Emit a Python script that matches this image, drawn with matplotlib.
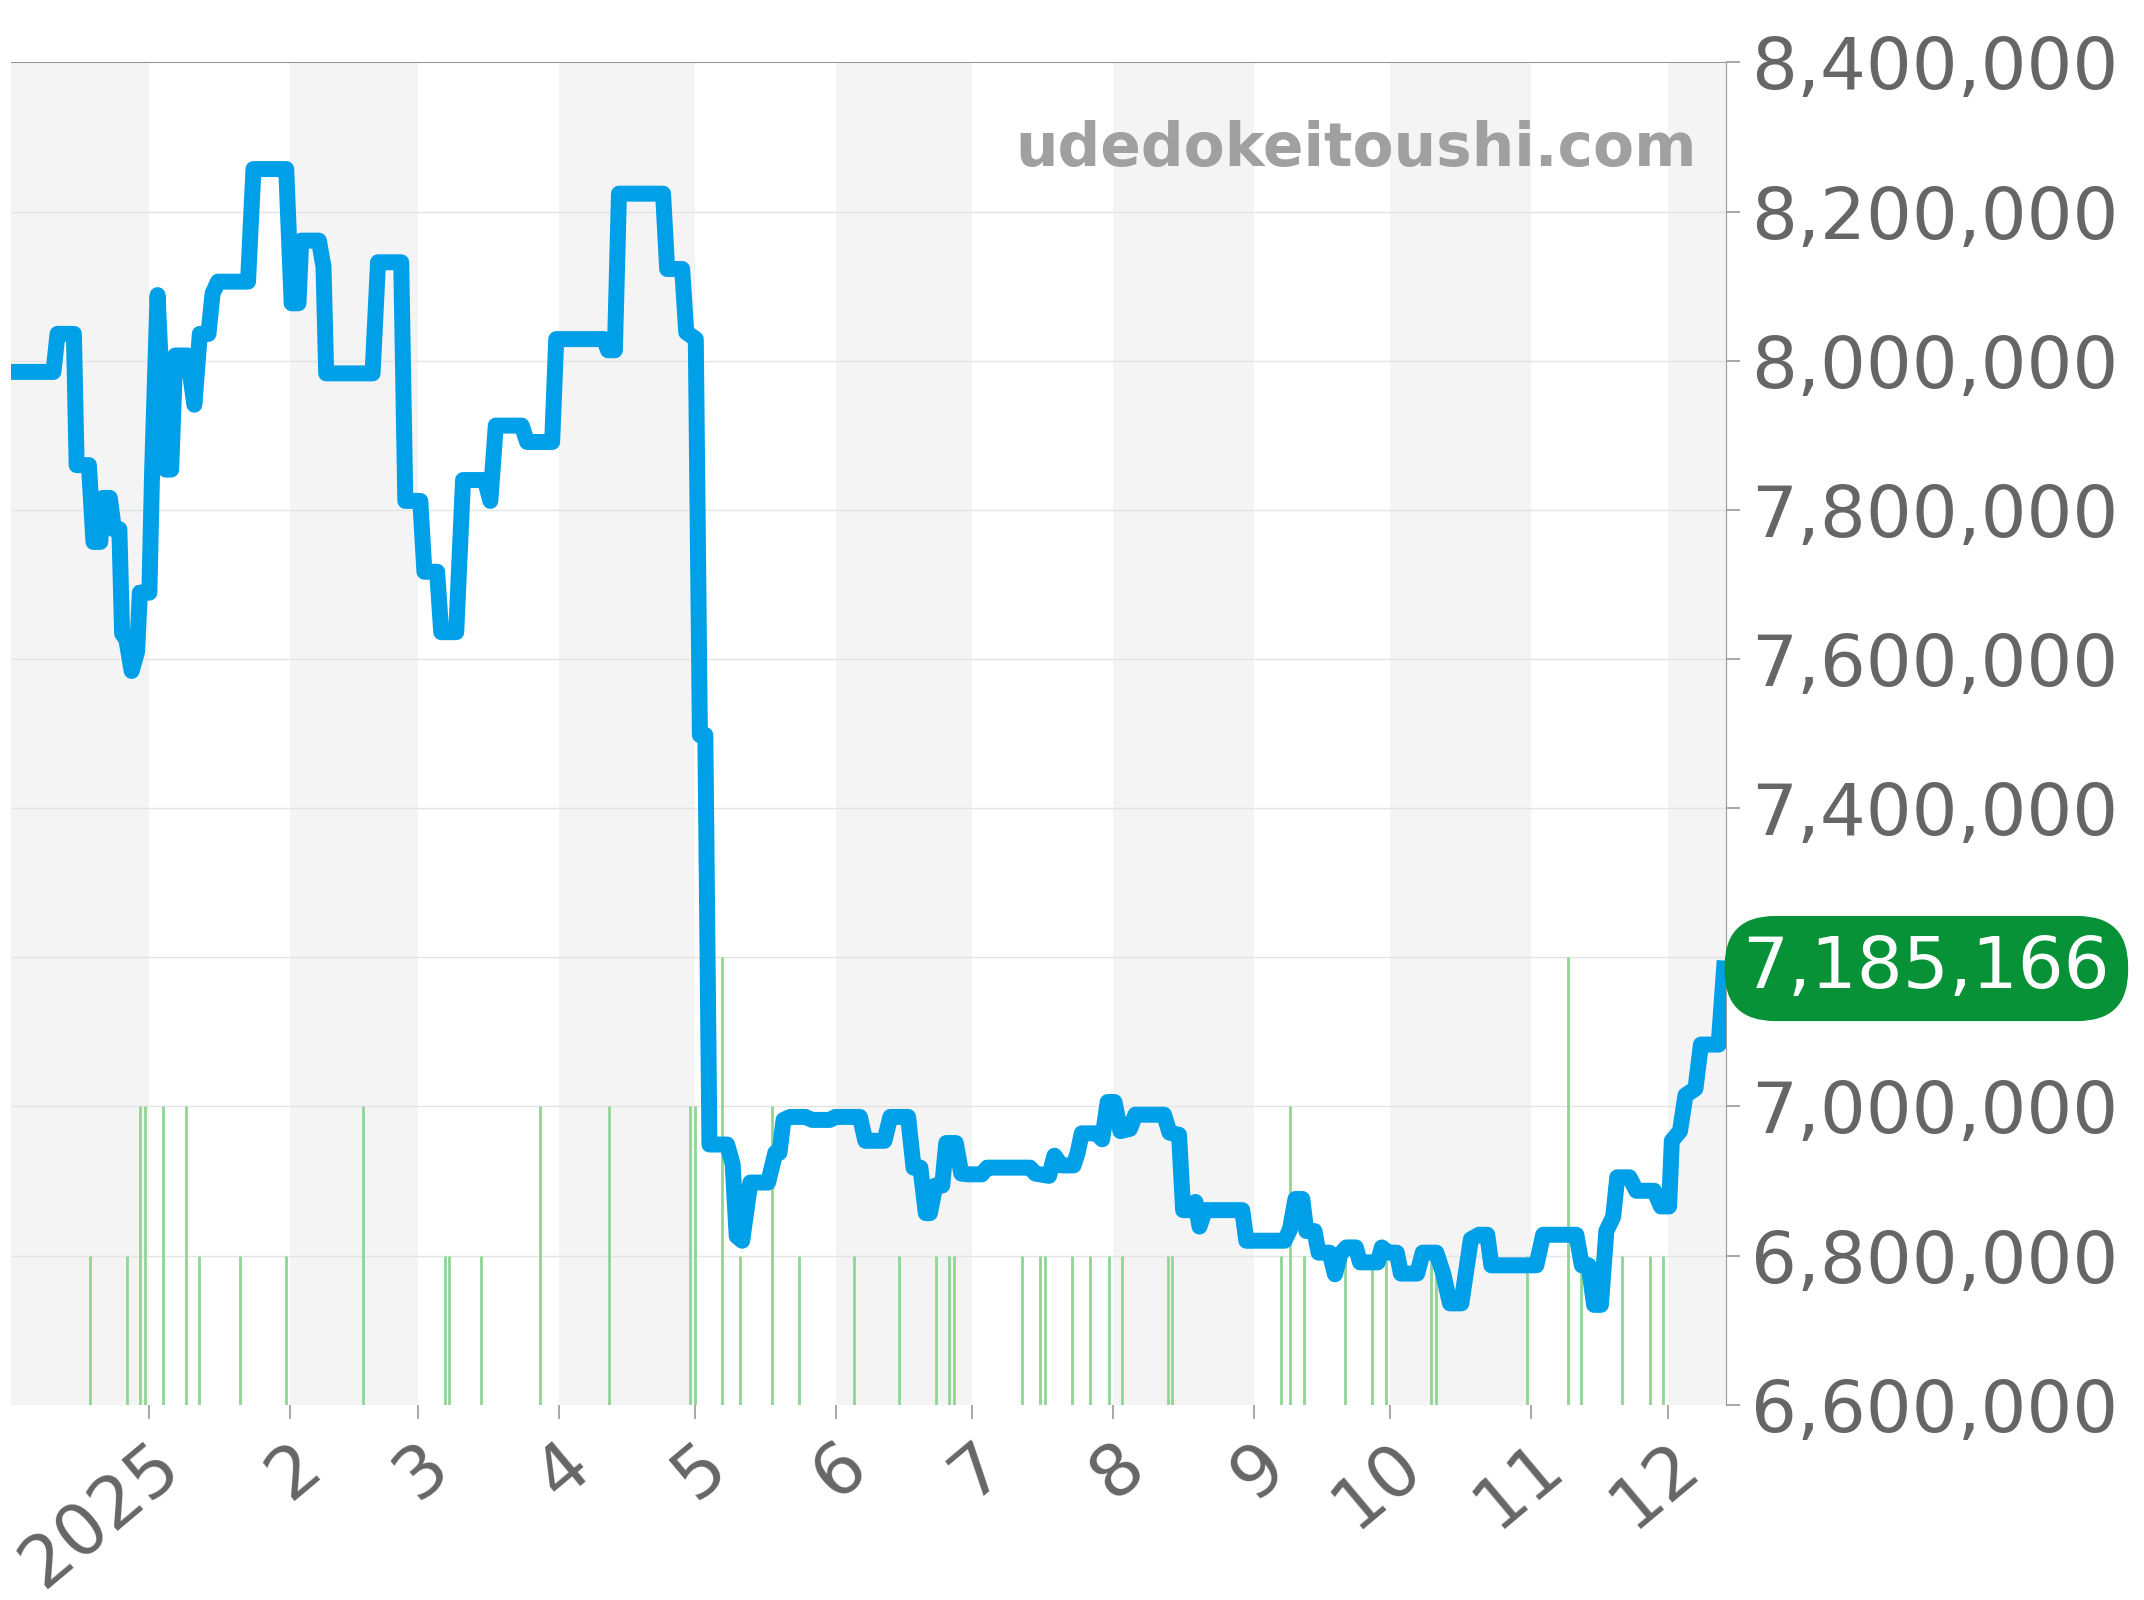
import matplotlib
matplotlib.use('Agg')
import matplotlib.pyplot as plt
import numpy as np
from matplotlib.ticker import FuncFormatter

# price line: days since 2025-01-01, price in thousands of yen
days = [-30.1, -21.1, -20.2, -16.6, -16, -13.3, -12.3, -10.8, -10.2, -8.7, -7.8, -6.6, -6, -5.1, -3.9, -2.7,
        -2.1, 0, 0.6, 1.8, 3.6, 4.8, 5.7, 8.4, 9.9, 11.1, 13, 13.9, 15.1, 21.7, 22.9, 30.1, 31.3, 32.8, 33.4,
        37.3, 38.3, 38.9, 49.1, 50.3, 55.4, 56.3, 59.6, 60.5, 63.3, 64.2, 67.5, 69, 73.8, 75, 76.2, 81.9, 83.1,
        88.6, 89.5, 100, 100.9, 102.4, 103.3, 113, 113.9, 117.2, 118.1, 120.2, 121.1, 122.3, 123.2, 127.1,
        128.3, 129.2, 130.4, 132.2, 136.1, 137.7, 138.6, 139.5, 141, 144.3, 145.8, 149.7, 150.9, 156.3, 157.5,
        161.7, 163, 166.9, 168.1, 169.6, 170.8, 171.7, 172.9, 174.4, 175.3, 177.4, 178.6, 180.1, 183.1, 184.3,
        193.7, 194.9, 197.9, 199.1, 200.6, 203.3, 204.2, 205.1, 208.4, 209.6, 210.8, 212.3, 213.6, 215.7,
        216.9, 223.2, 224.4, 226.5, 227.4, 229.2, 230.1, 231, 232.2, 240.4, 241.3, 249.7, 250.9, 252.1, 253.6,
        254.5, 256.3, 257.2, 259.6, 260.8, 262, 263.3, 265.4, 266.3, 270.2, 271.1, 272.6, 274.4, 275.3, 278.9,
        280.1, 283.1, 284.6, 286.1, 288.6, 290.7, 292.5, 294.3, 295.2, 305.1, 306.6, 313.9, 315.1, 316.6,
        317.8, 319.3, 320.5, 322, 322.9, 325.6, 327.1, 331, 332.5, 334.3, 334.9, 336.7, 337.9, 340.1, 341.3,
        345.2, 346.4]
prices = [7985, 7985, 8036, 8036, 7860, 7860, 7757, 7757, 7816, 7816, 7774, 7774, 7634, 7627, 7584, 7610,
          7689, 7689, 7851, 8088, 7854, 7854, 8007, 8007, 7941, 8036, 8036, 8090, 8106, 8106, 8257, 8257,
          8077, 8077, 8161, 8161, 8126, 7983, 7983, 8132, 8132, 7812, 7812, 7717, 7717, 7636, 7636, 7840,
          7840, 7812, 7913, 7913, 7891, 7891, 8029, 8029, 8014, 8014, 8224, 8224, 8123, 8123, 8038, 8029,
          7498, 7498, 6949, 6949, 6923, 6826, 6820, 6898, 6898, 6938, 6938, 6982, 6986, 6986, 6982, 6982,
          6986, 6986, 6954, 6954, 6986, 6986, 6918, 6918, 6857, 6857, 6894, 6894, 6951, 6951, 6910, 6909,
          6909, 6918, 6918, 6910, 6907, 6934, 6921, 6921, 6938, 6964, 6964, 6956, 7006, 7006, 6967, 6970,
          6989, 6989, 6965, 6962, 6861, 6861, 6872, 6839, 6861, 6861, 6820, 6820, 6835, 6876, 6876, 6833,
          6833, 6804, 6804, 6775, 6802, 6811, 6811, 6791, 6791, 6811, 6804, 6804, 6776, 6776, 6804, 6804,
          6776, 6736, 6736, 6822, 6828, 6828, 6787, 6787, 6828, 6828, 6787, 6787, 6734, 6734, 6833, 6852,
          6905, 6905, 6887, 6887, 6866, 6866, 6954, 6967, 7015, 7024, 7083, 7083, 7185]

# trade counts (days since 2025-01-01, count)
vol_days = [-13, -5, -2, -1, 3, 8, 11, 20, 30, 47, 65, 66, 73, 86, 101, 119, 120, 126, 130, 137, 143, 155,
            165, 173, 176, 177, 192, 196, 197, 203, 207, 211, 214, 224, 225, 249, 251, 254, 263, 269, 272,
            282, 283, 303, 312, 315, 324, 330, 333]
vol_counts = [1, 1, 2, 2, 2, 2, 1, 1, 1, 2, 1, 1, 1, 2, 2, 2, 2, 3, 1, 2, 1, 1,
              1, 1, 1, 1, 1, 1, 1, 1, 1, 1, 1, 1, 1, 1, 2, 1, 1, 1, 1,
              1, 1, 1, 3, 1, 1, 1, 1]

month_starts = [0, 31, 59, 90, 120, 151, 181, 212, 243, 273, 304, 334]
month_labels = ['2025', '2', '3', '4', '5', '6', '7', '8', '9', '10', '11', '12']
x_min, x_max = -30.5, 346.8
y_min, y_max = 6600, 8400
last_price = '7,185,166'

fig = plt.figure(figsize=(21.44, 16), dpi=100)
ax = fig.add_axes([0.005, 0.122, 0.8, 0.839])

# alternating month shading
edges = [x_min] + month_starts + [x_max]
for i in range(len(edges) - 1):
    if i % 2 == 0:
        ax.axvspan(edges[i], edges[i + 1], color='#f4f4f4', lw=0, zorder=0)

for v in np.arange(6800, 8400, 200):
    ax.axhline(v, color='#e4e4e4', lw=1, zorder=1)

base = y_min
for d, c in zip(vol_days, vol_counts):
    ax.vlines(d, base, base + c * 200, color='#8ed694', lw=2, zorder=2)

ax.plot(days, prices, color='#00a0e9', lw=11.5, solid_joinstyle='round', zorder=3)

ax.set_xlim(x_min, x_max)
ax.set_ylim(y_min, y_max)
ax.set_xticks(month_starts)
ax.set_xticklabels(month_labels, rotation=40, ha='right', rotation_mode='anchor')
ax.set_yticks(np.arange(6600, 8401, 200))
# the 7,200,000 label sits under the price badge
ax.yaxis.set_major_formatter(FuncFormatter(lambda v, p: '' if int(round(v)) == 7200 else f'{int(round(v)) * 1000:,}'))
ax.yaxis.tick_right()
ax.tick_params(axis='both', labelsize=52, length=10, width=1.2, pad=8)
ax.tick_params(axis='y', colors='#999999', labelcolor='#666666')
ax.tick_params(axis='x', colors='#999999', labelcolor='#666666')
for s in ['left', 'bottom']:
    ax.spines[s].set_visible(False)
ax.spines['top'].set_color('#999999')
ax.spines['right'].set_color('#999999')

ax.text(0.983, 0.935, 'udedokeitoushi.com', transform=ax.transAxes, ha='right', va='center',
        fontsize=43, fontweight='bold', color='#a0a0a0', zorder=4)

ax.annotate(last_price, xy=(1.0, prices[-1]), xycoords=('axes fraction', 'data'),
            xytext=(12, 0), textcoords='offset points', ha='left', va='center',
            fontsize=52, color='white', annotation_clip=False,
            bbox=dict(boxstyle='round,pad=0.25,rounding_size=0.7', fc='#089238', ec='none'))

fig.savefig('out.png', dpi=100)
